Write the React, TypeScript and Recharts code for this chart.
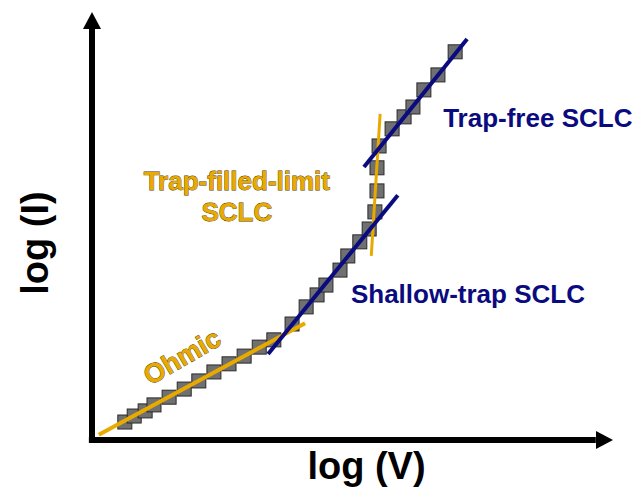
import { ComposedChart, Scatter, XAxis, YAxis, ReferenceLine, ReferenceDot } from 'recharts'

// measured points, in arbitrary log units (0..100 on both axes)
const measured = [
  { x: 6.3, y: 4.2 }, { x: 8.1, y: 5.6 }, { x: 10.2, y: 6.8 }, { x: 11.9, y: 8.2 },
  { x: 14.8, y: 10.0 }, { x: 17.7, y: 11.9 }, { x: 20.5, y: 13.8 }, { x: 23.4, y: 15.9 },
  { x: 26.3, y: 17.8 }, { x: 29.2, y: 19.6 }, { x: 32.1, y: 21.7 }, { x: 34.9, y: 23.4 },
  { x: 38.4, y: 27.1 }, { x: 41.1, y: 31.1 }, { x: 43.2, y: 33.9 }, { x: 44.9, y: 36.2 },
  { x: 47.6, y: 39.7 }, { x: 49.1, y: 43.0 }, { x: 51.4, y: 46.3 }, { x: 53.2, y: 49.3 },
  { x: 54.3, y: 53.3 }, { x: 54.7, y: 58.2 }, { x: 54.7, y: 63.6 }, { x: 55.1, y: 68.7 },
  { x: 57.6, y: 72.7 }, { x: 59.9, y: 75.5 }, { x: 61.6, y: 77.8 }, { x: 63.7, y: 81.8 },
  { x: 66.4, y: 85.3 }, { x: 69.7, y: 90.7 },
]

// fitted regimes
const ohmicFit = [{ x: 1.3, y: 1.2 }, { x: 40.9, y: 27.3 }]
const shallowFit = [{ x: 33.8, y: 20.1 }, { x: 58.7, y: 57.2 }]
const tflFit = [{ x: 53.6, y: 43.0 }, { x: 55.3, y: 76.2 }]
const trapFreeFit = [{ x: 52.2, y: 63.8 }, { x: 72.0, y: 93.7 }]

const ORANGE = '#e8a900'
const NAVY = '#0b0b80'
const FONT = '"Liberation Sans", Arial, sans-serif'

const Square = (p: any) => (
  <rect x={p.cx - 7} y={p.cy - 7} width={14} height={14} fill="#707070" stroke="#2a2a2a" strokeWidth={1} />
)
const NoMark = () => <g />

const orangeText = { fill: ORANGE, stroke: '#4a3b00', strokeWidth: 0.8, paintOrder: 'stroke' as const }

const xTitle = (p: any) => {
  const vb = p.viewBox
  return (
    <text x={vb.x + vb.width / 2 + 14} y={vb.y + 39} textAnchor="middle"
      style={{ fontFamily: FONT, fontWeight: 700, fontSize: 38, fill: '#000' }}>log (V)</text>
  )
}

const yTitle = (p: any) => {
  const vb = p.viewBox
  const cy = vb.y + vb.height / 2 + 17
  return (
    <text x={48} y={cy} textAnchor="middle" transform={`rotate(-90 48 ${cy})`}
      style={{ fontFamily: FONT, fontWeight: 700, fontSize: 38, fill: '#000' }}>log (I)</text>
  )
}

export default function App() {
  return (
    <div style={{ position: 'absolute', left: 0, top: 0, width: 639, height: 494, background: '#fff' }}>
      <ComposedChart width={639} height={494} margin={{ top: 12, right: 26, bottom: 0, left: 0 }}>
        <XAxis type="number" dataKey="x" domain={[0, 100]} height={54} tick={false} tickLine={false} axisLine={false} label={xTitle} />
        <YAxis type="number" dataKey="y" domain={[0, 100]} width={92} tick={false} tickLine={false} axisLine={false} label={yTitle} />

        <ReferenceLine segment={[{ x: -0.6, y: 0 }, { x: 96.7, y: 0 }]} stroke="#000" strokeWidth={6} ifOverflow="visible" />
        <ReferenceLine segment={[{ x: 0, y: -0.7 }, { x: 0, y: 96 }]} stroke="#000" strokeWidth={6} ifOverflow="visible" />
        <ReferenceDot x={0} y={100} r={0} ifOverflow="visible"
          shape={(p: any) => <polygon points={`${p.cx},${p.cy} ${p.cx - 9},${p.cy + 17} ${p.cx + 9},${p.cy + 17}`} fill="#000" />} />
        <ReferenceDot x={100} y={0} r={0} ifOverflow="visible"
          shape={(p: any) => <polygon points={`${p.cx},${p.cy} ${p.cx - 17},${p.cy - 9} ${p.cx - 17},${p.cy + 9}`} fill="#000" />} />

        <Scatter data={measured} shape={Square} isAnimationActive={false} />

        {/* fits drawn as scatter lines so they stack above the squares */}
        <Scatter data={ohmicFit} shape={NoMark} fill={ORANGE} line={{ stroke: ORANGE, strokeWidth: 4 }} isAnimationActive={false} />
        <Scatter data={tflFit} shape={NoMark} fill={ORANGE} line={{ stroke: ORANGE, strokeWidth: 3 }} isAnimationActive={false} />
        <Scatter data={shallowFit} shape={NoMark} fill={NAVY} line={{ stroke: NAVY, strokeWidth: 4 }} isAnimationActive={false} />
        <Scatter data={trapFreeFit} shape={NoMark} fill={NAVY} line={{ stroke: NAVY, strokeWidth: 4 }} isAnimationActive={false} />

        <ReferenceDot x={67.4} y={73.1} r={0} ifOverflow="visible"
          shape={(p: any) => <text x={p.cx} y={p.cy} style={{ fontFamily: FONT, fontWeight: 700, fontSize: 26, fill: NAVY }}>Trap-free SCLC</text>} />
        <ReferenceDot x={49.7} y={32.0} r={0} ifOverflow="visible"
          shape={(p: any) => <text x={p.cx} y={p.cy} style={{ fontFamily: FONT, fontWeight: 700, fontSize: 26, fill: NAVY }}>Shallow-trap SCLC</text>} />
        <ReferenceDot x={27.8} y={58.4} r={0} ifOverflow="visible"
          shape={(p: any) => (
            <text x={p.cx} y={p.cy} textAnchor="middle" style={{ fontFamily: FONT, fontWeight: 700, fontSize: 26, ...orangeText }}>
              <tspan x={p.cx}>Trap-filled-limit</tspan>
              <tspan x={p.cx} dy={31}>SCLC</tspan>
            </text>
          )} />
        <ReferenceDot x={17.3} y={19.4} r={0} ifOverflow="visible"
          shape={(p: any) => (
            <text x={p.cx} y={p.cy + 9} textAnchor="middle" transform={`rotate(-30 ${p.cx} ${p.cy})`}
              style={{ fontFamily: FONT, fontWeight: 700, fontSize: 27, ...orangeText }}>Ohmic</text>
          )} />
      </ComposedChart>
    </div>
  )
}
